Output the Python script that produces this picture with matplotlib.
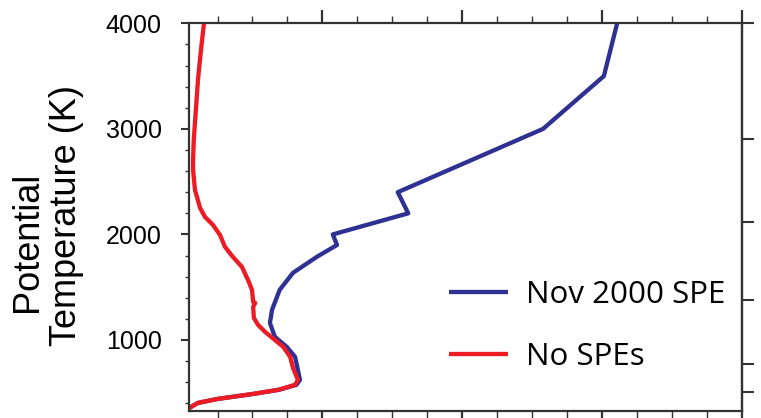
import matplotlib
matplotlib.use("Agg")
import matplotlib.pyplot as plt
from matplotlib.ticker import MultipleLocator, FixedLocator, NullFormatter

# potential temperature levels (K) and profiles
theta_spe = [340, 360, 404, 442, 487, 528, 575, 622, 717, 840, 935, 1030, 1162,
             1285, 1475, 1636, 1787, 1900, 2000, 2200, 2400, 3000, 3500, 4000]
spe = [0.6, 1.06, 2.2, 5.07, 9.9, 13.8, 16.3, 16.8, 16.5, 16.1, 14.9, 13.2, 12.5,
       12.8, 13.9, 15.8, 19.2, 22.1, 21.5, 32.3, 30.8, 51.6, 60.3, 62.2]

theta_nospe = [340, 360, 404, 442, 487, 528, 575, 622, 736, 840, 935, 1001, 1077,
               1143, 1209, 1313, 1351, 1361, 1475, 1569, 1692, 1787, 1882, 1995,
               2090, 2166, 2251, 2422, 2611, 2706, 2895, 3179, 3463, 3747, 4000]
nospe = [0.6, 1.06, 2.2, 5.07, 9.9, 13.7, 16.1, 16.5, 15.8, 15.4, 14.4, 13.2, 11.8,
         10.8, 10.2, 10.1, 10.4, 10.1, 9.93, 9.36, 8.5, 7.2, 6.07, 5.35,
         4.35, 3.2, 2.5, 1.77, 1.5, 1.5, 1.6, 1.9, 2.2, 2.63, 3.06]

yticks = [1000, 2000, 3000, 4000]
xticks = [20, 40, 60, 80]
right_ticks = [506, 774, 1380, 2121, 2904, 4000]

fig = plt.figure(figsize=(7.61, 4.18), dpi=100)
ax = fig.add_axes([189.3 / 761, 1 - 410.7 / 418, 552.2 / 761, 387.4 / 418])

ax.plot(spe, theta_spe, color="#2e3192", lw=3.1, label="Nov 2000 SPE",
        solid_capstyle="butt", solid_joinstyle="round")
ax.plot(nospe, theta_nospe, color="#ed1c24", lw=3.1, label="No SPEs",
        solid_capstyle="butt", solid_joinstyle="round")

ax.set_xlim(0.96, 80)
ax.set_ylim(330, 4000)

for s in ax.spines.values():
    s.set_color("#333333")
    s.set_linewidth(1.6)

ax.yaxis.set_major_locator(FixedLocator(yticks))
ax.yaxis.set_minor_locator(MultipleLocator(200))
ax.xaxis.set_major_locator(FixedLocator(xticks))
ax.xaxis.set_minor_locator(MultipleLocator(5))
ax.xaxis.set_major_formatter(NullFormatter())

ax.tick_params(axis="y", which="major", direction="out", length=5.8, width=1.5,
               color="#333333", labelsize=18, pad=14, left=True, right=False)
ax.tick_params(axis="y", which="minor", direction="out", length=3.2, width=1.0,
               color="#333333", left=True, right=False)
ax.tick_params(axis="x", which="major", direction="out", length=9.4, width=1.6,
               color="#333333", bottom=True, top=True)
ax.tick_params(axis="x", which="minor", direction="out", length=5, width=1.0,
               color="#333333", bottom=True, top=True)
for lab in ax.get_yticklabels():
    lab.set_family("Liberation Sans")

sec = ax.secondary_yaxis("right")
sec.yaxis.set_major_locator(FixedLocator(right_ticks))
sec.yaxis.set_major_formatter(NullFormatter())
sec.tick_params(direction="out", length=8.6, width=1.5, color="#333333")
sec.spines["right"].set_color("#333333")
sec.spines["right"].set_linewidth(1.6)

fig.text(27.5 / 761, 1 - 242 / 418, "Potential", rotation=90, ha="center",
         va="center", fontsize=26, family="Liberation Sans")
fig.text(66 / 761, 1 - 216 / 418, "Temperature (K)", rotation=90, ha="center",
         va="center", fontsize=26, family="Liberation Sans")

ax.legend(loc="upper left", bbox_to_anchor=(449 / 761, 1 - 280 / 418),
          bbox_transform=fig.transFigure, frameon=False, borderpad=0,
          borderaxespad=0, handlelength=1.9, handletextpad=0.55,
          labelspacing=1.03, prop={"family": "Open Sans", "size": 22.5})

fig.savefig("out.png", dpi=100)
